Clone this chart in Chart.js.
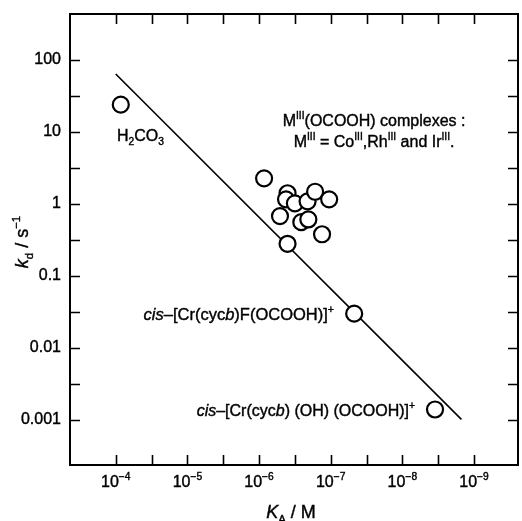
<!DOCTYPE html>
<html>
<head>
<meta charset="utf-8">
<script src="https://cdn.jsdelivr.net/npm/chart.js@4.4.1/dist/chart.umd.min.js"></script>
<style>
body { margin: 0; background: #fff; }
#wrap { width: 522px; height: 521px; }
</style>
</head>
<body>
<div id="wrap"><canvas id="mycanvas"></canvas></div>
<script>
// measured points: K_A (M) and k_d (s^-1)
var kaValues = [8.5e-5, 8.5e-7, 4.0e-7, 4.2e-7, 3.16e-7, 2.1e-7, 1.65e-7, 1.05e-7, 5.1e-7, 2.57e-7, 2.05e-7, 1.32e-7, 4.0e-7, 4.7e-8, 3.5e-9];
var kdValues = [24, 2.27, 1.41, 1.16, 1.02, 1.09, 1.48, 1.16, 0.68, 0.56, 0.61, 0.38, 0.28, 0.030, 0.0014];
// fitted line end points
var fitKa = [1e-4, 1.5e-9];
var fitKd = [64, 0.00102];
// axis ticks
var yTickValues = [0.001, 0.01, 0.1, 1, 10, 100];
var yTickLabels = ['0.001', '0.01', '0.1', '1', '10', '100'];
var xTickValues = [1e-4, 1e-5, 1e-6, 1e-7, 1e-8, 1e-9];
var xTickExponents = ['\u22124', '\u22125', '\u22126', '\u22127', '\u22128', '\u22129'];
var xFrameTicks = [1e-4, 3.162e-5, 1e-5, 3.162e-6, 1e-6, 3.162e-7, 1e-7, 3.162e-8, 1e-8, 3.162e-9, 1e-9];
var yFrameTicks = [0.001, 0.003162, 0.01, 0.03162, 0.1, 0.3162, 1, 3.162, 10, 31.62, 100];

var FAM = '"Liberation Sans", Arial, Helvetica, sans-serif';

function N(t) { return { t: t }; }
function I(t) { return { t: t, i: true }; }
function SUP(t) { return { t: t, sup: true }; }
function SUB(t) { return { t: t, sub: true }; }

function segFont(s, size) {
	var sz = (s.sup || s.sub) ? size * 0.64 : size;
	return (s.i ? 'italic ' : '') + sz + 'px ' + FAM;
}

function drawRich(ctx, parts, x, y, size, align) {
	var w = 0;
	parts.forEach(function(s) {
		ctx.font = segFont(s, size);
		s.w = ctx.measureText(s.t).width;
		w += s.w;
	});
	var cx = x;
	if (align === 'center') cx = x - w / 2;
	if (align === 'right') cx = x - w;
	ctx.textAlign = 'left';
	ctx.textBaseline = 'alphabetic';
	ctx.lineWidth = 0.4;
	parts.forEach(function(s) {
		ctx.font = segFont(s, size);
		var dy = s.sup ? -size * 0.42 : (s.sub ? size * 0.26 : 0);
		ctx.fillText(s.t, cx, y + dy);
		ctx.strokeText(s.t, cx, y + dy);
		cx += s.w;
	});
}

var framePlugin = {
	id: 'frame',
	afterDraw: function(chart) {
		var ctx = chart.ctx;
		var a = chart.chartArea;
		var xs = chart.scales.x, ys = chart.scales.y;
		ctx.save();
		ctx.strokeStyle = '#000';
		ctx.fillStyle = '#000';
		ctx.lineWidth = 2;
		ctx.strokeRect(a.left, a.top, a.right - a.left, a.bottom - a.top);
		ctx.lineWidth = 1.6;
		ctx.beginPath();
		xFrameTicks.forEach(function(v) {
			var px = Math.round(xs.getPixelForValue(v)) + 0.5;
			ctx.moveTo(px, a.bottom); ctx.lineTo(px, a.bottom - 10);
			ctx.moveTo(px, a.top); ctx.lineTo(px, a.top + 10);
		});
		yFrameTicks.forEach(function(v) {
			var py = Math.round(ys.getPixelForValue(v)) + 0.5;
			ctx.moveTo(a.left, py); ctx.lineTo(a.left + 10, py);
			ctx.moveTo(a.right, py); ctx.lineTo(a.right - 10, py);
		});
		ctx.stroke();

		// x tick labels 10^n
		xTickValues.forEach(function(v, i) {
			drawRich(ctx, [N('10'), SUP(xTickExponents[i])], xs.getPixelForValue(v), 487, 16, 'center');
		});

		// axis titles
		drawRich(ctx, [I('K'), SUB('A'), N(' / M')], 291, 518, 18, 'center');
		ctx.save();
		ctx.translate(28, 242);
		ctx.rotate(-Math.PI / 2);
		drawRich(ctx, [I('k'), SUB('d'), N(' / s'), SUP('\u22121')], 0, 0, 18, 'center');
		ctx.restore();

		// annotations
		drawRich(ctx, [N('H'), SUB('2'), N('CO'), SUB('3')], xs.getPixelForValue(9.6e-5), ys.getPixelForValue(7.5), 16, 'left');
		drawRich(ctx, [N('M'), SUP('III'), N('(OCOOH) complexes :')], xs.getPixelForValue(2.48e-8), ys.getPixelForValue(12.2), 16, 'center');
		drawRich(ctx, [N('M'), SUP('III'), N(' = Co'), SUP('III'), N(',Rh'), SUP('III'), N(' and Ir'), SUP('III'), N('.')], xs.getPixelForValue(2.48e-8), ys.getPixelForValue(6.25), 16, 'center');
		drawRich(ctx, [I('cis'), N('\u2013[Cr(cyc'), I('b'), N(')F(OCOOH)]'), SUP('+')], xs.getPixelForValue(9.0e-8), ys.getPixelForValue(0.0245), 16.5, 'right');
		drawRich(ctx, [I('cis'), N('\u2013[Cr(cyc'), I('b'), N(') (OH) (OCOOH)]'), SUP('+')], xs.getPixelForValue(6.65e-9), ys.getPixelForValue(0.00115), 16, 'right');
		ctx.restore();
	}
};

var points = kaValues.map(function(v, i) { return { x: v, y: kdValues[i] }; });
var fit = fitKa.map(function(v, i) { return { x: v, y: fitKd[i] }; });

var ctx = document.getElementById('mycanvas');

var chart = new Chart(ctx, {
	type: 'scatter',
	data: {
		datasets: [
			{
				label: 'complexes',
				data: points,
				pointRadius: 8,
				pointBorderWidth: 2.2,
				pointBackgroundColor: '#fff',
				pointBorderColor: '#000'
			},
			{
				label: 'fit',
				data: fit,
				showLine: true,
				borderColor: '#000',
				borderWidth: 1.6,
				pointRadius: 0
			}
		]
	},
	options: {
		responsive: true,
		maintainAspectRatio: false,
		animation: false,
		layout: { autoPadding: false, padding: { left: 0, right: 4, top: 14, bottom: 56 } },
		plugins: { legend: { display: false }, tooltip: { enabled: false } },
		scales: {
			x: {
				type: 'logarithmic',
				reverse: true,
				min: Math.pow(10, -9.614),
				max: Math.pow(10, -3.362),
				display: false
			},
			y: {
				type: 'logarithmic',
				min: Math.pow(10, -3.625),
				max: Math.pow(10, 2.639),
				grid: { display: false, drawTicks: false },
				border: { display: false },
				afterBuildTicks: function(scale) {
					scale.ticks = yTickValues.map(function(v) { return { value: v }; });
				},
				afterFit: function(scale) {
					scale.width = 70;
					scale.paddingTop = 0;
					scale.paddingBottom = 0;
				},
				ticks: {
					padding: 9,
					color: '#000',
					textStrokeColor: '#000',
					textStrokeWidth: 0.4,
					font: { size: 16, family: FAM },
					callback: function(value, index) { return yTickLabels[index]; }
				}
			}
		}
	},
	plugins: [framePlugin]
});
</script>
</body>
</html>
